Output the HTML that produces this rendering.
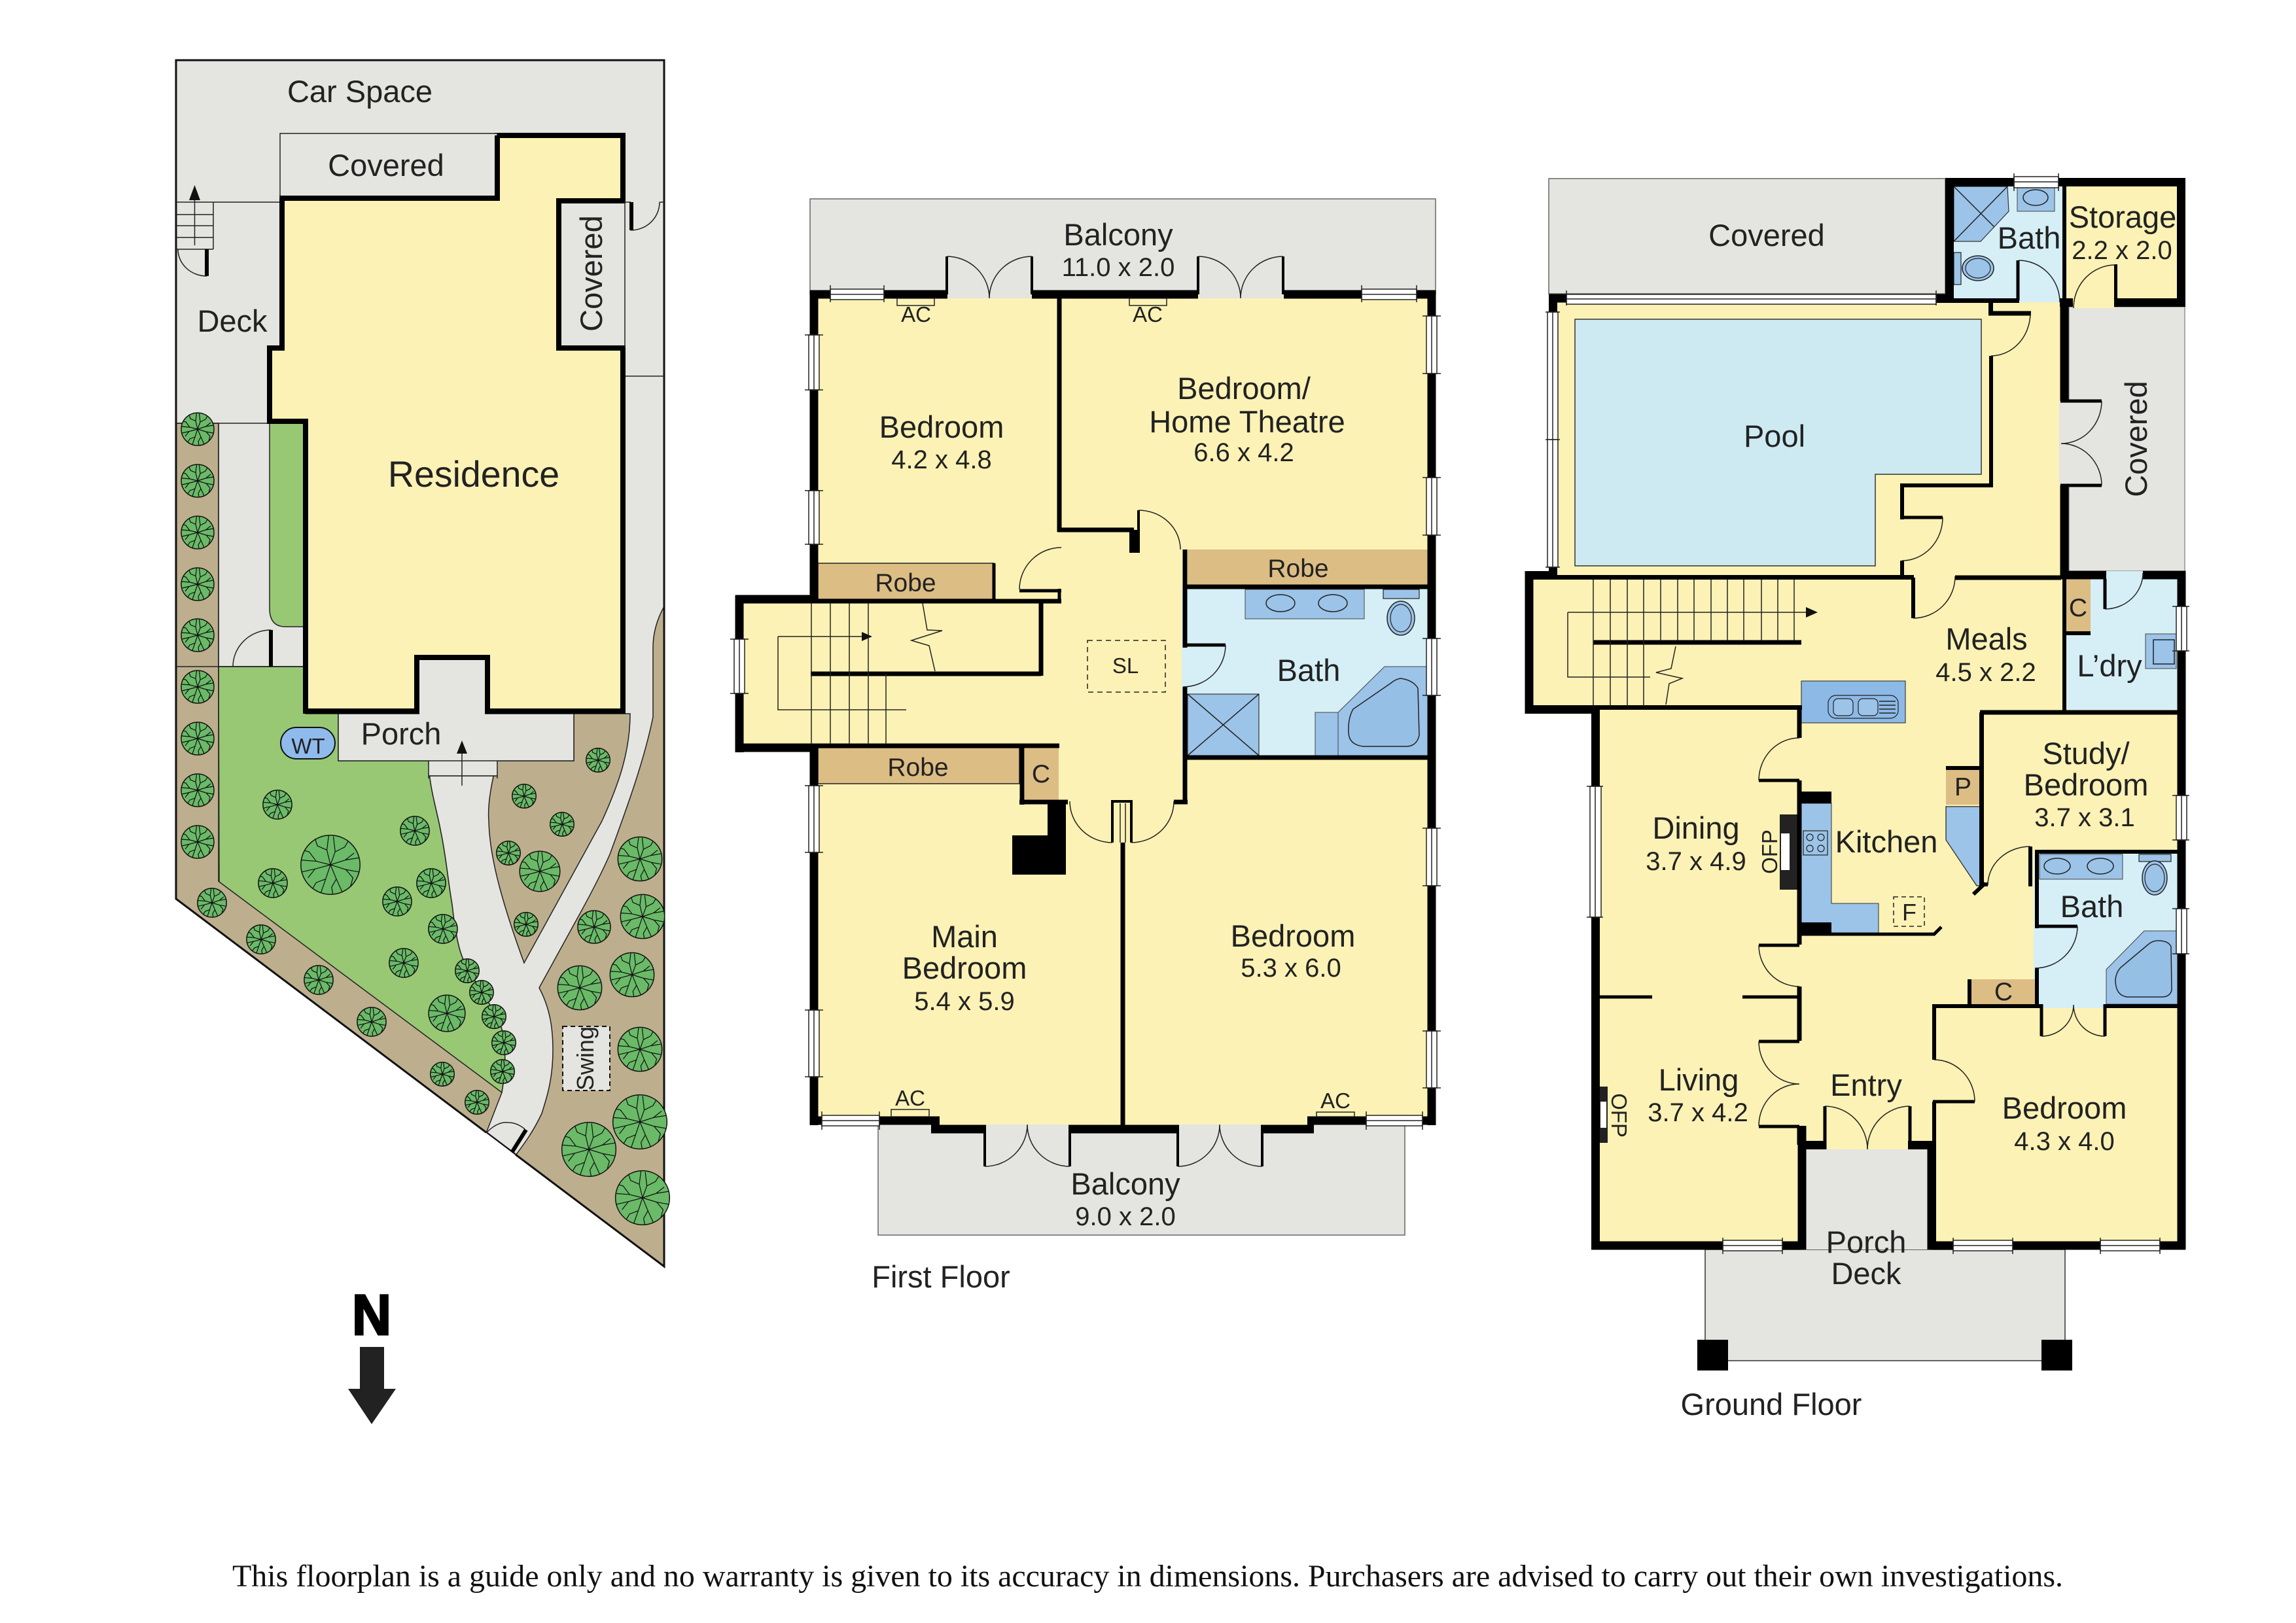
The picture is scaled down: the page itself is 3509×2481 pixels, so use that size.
<!DOCTYPE html>
<html><head><meta charset="utf-8"><title>Floorplan</title>
<style>
html,body{margin:0;padding:0;background:#fff}
svg{display:block}
text{font-family:"Liberation Sans",sans-serif;fill:#222}
.l{font-size:47px;text-anchor:middle}
.d{font-size:40px;text-anchor:middle}
.r{font-size:39px;text-anchor:middle}
.s{font-size:33px;text-anchor:middle}
.t{fill:none;stroke:#222;stroke-width:1.5}
.k{fill:none;stroke:#000;stroke-linejoin:miter}
.w rect{fill:#fff;stroke:#222;stroke-width:1.5}
.w path{fill:none;stroke:#222;stroke-width:1.5}
</style></head><body>
<svg xmlns="http://www.w3.org/2000/svg" width="3509" height="2481" viewBox="0 0 3509 2481">
<defs>
<symbol id="tr" viewBox="-52 -52 104 104">
<circle r="50" fill="#6aba68" stroke="#111" stroke-width="1.5" vector-effect="non-scaling-stroke"/>
<path fill="none" stroke="#111" stroke-width="1.2" vector-effect="non-scaling-stroke" d="M0 0L-6 -25L-3 -49M-6 -25L-22 -32L-26 -44M0 0L8 -22L5 -48M8 -22L24 -30L30 -40M0 0L25 -8L49 -12M25 -8L40 -20M0 0L26 8L48 12M26 8L38 22L34 36M0 0L10 24L20 46M10 24L2 38L4 49M0 0L-8 24L-16 47M-8 24L-24 30L-30 40M0 0L-26 7L-48 12M-26 7L-38 22M0 0L-24 -6L-49 -8M-24 -6L-36 -22L-44 -24"/>
</symbol>
</defs>
<rect width="3509" height="2481" fill="#fff"/>

<!-- SITE PLAN -->
<polygon points="269,92 1015,92 1015,1936 269,1374" fill="#bdae8e"/>
<path fill="#e4e4e1" stroke="#222" stroke-width="1.5" d="M269 92H1015V927C1005 945 998 965 998 990V1096C985 1160 960 1230 932 1306C915 1345 890 1390 880 1408L824 1510C840 1540 845 1570 845 1606C845 1650 835 1680 828 1702C815 1730 800 1750 788 1766L743 1732L767 1670C772 1640 775 1600 766 1570C750 1530 715 1490 705 1459C700 1445 695 1420 691 1383C685 1350 682 1310 673 1268C668 1240 655 1200 655 1163H517V1091H467V1019H334V647H269Z"/>
<path fill="#98c874" stroke="#222" stroke-width="1.5" d="M334 1019H467V1091H517V1163H655C655 1200 668 1240 673 1268C682 1310 685 1350 691 1383C695 1420 700 1445 705 1459C715 1490 750 1530 766 1570C775 1600 772 1640 767 1670L335 1348Z"/>
<path fill="#bdae8e" stroke="#222" stroke-width="1.5" d="M760 1163C750 1200 745 1230 747 1255C748 1300 760 1360 801 1472L920 1255C945 1200 963 1150 963 1091H877V1163Z"/>
<path fill="#98c874" stroke="#222" stroke-width="1.5" d="M412 647H464V958H436Q412 958 412 930Z"/>
<polygon points="269,92 1015,92 1015,1936 269,1374" fill="none" stroke="#111" stroke-width="3"/>
<path class="t" d="M269 309H428M955 309H964M1008 309H1015M955 575H1015M269 647H412M334 647V1348M269 1019H467M655 1186H760"/>
<rect x="517" y="1091" width="360" height="72" fill="#e4e4e1" stroke="#222" stroke-width="1.5"/>
<rect x="655" y="1164" width="105" height="22" fill="#e4e4e1"/>
<path class="t" d="M655 1186H760M655 1163V1190M760 1163V1190"/>
<path class="t" stroke-width="2" d="M706 1201V1145"/><polygon points="706,1132 698,1152 714,1152" fill="#111"/>
<path fill="#fcf2b5" stroke="#000" stroke-width="8" d="M431 303H760V207H952V307H854V532H952V1087H745V1005H637V1087H467V644H412V532H431Z"/>
<rect x="428" y="204" width="332" height="99" fill="#e4e4e1" stroke="#222" stroke-width="1.5"/>
<path class="k" stroke-width="8" d="M428 303H764M760 303V207"/>
<rect x="854" y="307" width="101" height="225" fill="#e4e4e1"/>
<path class="k" stroke-width="8" d="M854 303V536M850 532H956M856 307H956"/>
<path class="t" d="M955 307V532"/>
<rect x="641" y="1009" width="100" height="90" fill="#e4e4e1"/>
<path class="k" stroke-width="8" d="M637 1005V1091M745 1005V1091M633 1005H749M463 1087H637M745 1087H956"/>
<rect x="641" y="1091" width="100" height="4" fill="#e4e4e1"/>
<!-- stairs & doors on site -->
<path class="t" d="M269 328H326M269 345H326M269 363H326M269 381H326M326 309V381M297.500 375V296"/>
<polygon points="297.500,283 289,306 306,306" fill="#111"/>
<path class="k" stroke-width="6" d="M316 381V422M965 309V352M414 963V1019"/>
<path class="t" d="M316 422A44 41 0 0 1 272 381M964 352A44 43 0 0 0 1008 309M414 963A58 56 0 0 0 356 1019"/>
<path class="t" stroke-width="1.5" d="M743 1732Q760 1714 777 1716Q790 1716 802 1726"/>
<path class="k" stroke-width="6" d="M782 1762L804 1727"/>
<polygon points="743,1732 788,1766 782,1768 736,1735" fill="#fff"/>
<!-- trees -->
<g>
<use href="#tr" x="276" y="630" width="52" height="52"/><use href="#tr" x="276" y="709" width="52" height="52"/><use href="#tr" x="276" y="788" width="52" height="52"/><use href="#tr" x="276" y="867" width="52" height="52"/><use href="#tr" x="276" y="945" width="52" height="52"/>
<use href="#tr" x="276" y="1024" width="52" height="52"/><use href="#tr" x="276" y="1103" width="52" height="52"/><use href="#tr" x="276" y="1182" width="52" height="52"/><use href="#tr" x="276" y="1261" width="52" height="52"/>
<use href="#tr" x="301" y="1357" width="46" height="46"/><use href="#tr" x="376" y="1413" width="46" height="46"/><use href="#tr" x="464" y="1475" width="46" height="46"/><use href="#tr" x="545" y="1539" width="46" height="46"/>
<use href="#tr" x="657" y="1623" width="38" height="38"/><use href="#tr" x="710" y="1666" width="38" height="38"/>
<use href="#tr" x="401" y="1207" width="46" height="46"/><use href="#tr" x="394" y="1327" width="46" height="46"/><use href="#tr" x="458" y="1275" width="94" height="94"/>
<use href="#tr" x="611" y="1247" width="46" height="46"/><use href="#tr" x="636" y="1327" width="46" height="46"/><use href="#tr" x="584" y="1355" width="46" height="46"/><use href="#tr" x="654" y="1397" width="46" height="46"/><use href="#tr" x="594" y="1449" width="46" height="46"/>
<use href="#tr" x="695" y="1465" width="38" height="38"/><use href="#tr" x="717" y="1498" width="38" height="38"/><use href="#tr" x="736" y="1535" width="38" height="38"/><use href="#tr" x="751" y="1575" width="38" height="38"/><use href="#tr" x="749" y="1619" width="38" height="38"/>
<use href="#tr" x="654" y="1520" width="58" height="58"/>
<use href="#tr" x="895" y="1143" width="38" height="38"/><use href="#tr" x="782" y="1198" width="38" height="38"/><use href="#tr" x="840" y="1241" width="38" height="38"/><use href="#tr" x="758" y="1285" width="38" height="38"/><use href="#tr" x="793" y="1300" width="64" height="64"/><use href="#tr" x="785" y="1394" width="38" height="38"/>
<use href="#tr" x="943" y="1278" width="70" height="70"/><use href="#tr" x="947" y="1366" width="70" height="70"/><use href="#tr" x="882" y="1391" width="52" height="52"/><use href="#tr" x="931" y="1455" width="70" height="70"/><use href="#tr" x="851" y="1475" width="70" height="70"/><use href="#tr" x="943" y="1569" width="70" height="70"/>
<use href="#tr" x="935" y="1672" width="86" height="86"/><use href="#tr" x="857" y="1714" width="86" height="86"/><use href="#tr" x="939" y="1788" width="86" height="86"/>
</g>
<rect x="860" y="1569" width="72" height="98" fill="#e4e4e1" stroke="#111" stroke-width="2" stroke-dasharray="7 5"/>
<text transform="translate(907,1618) rotate(-90)" class="s" style="font-size:36px">Swing</text>
<rect x="429" y="1112" width="83" height="48" rx="24" fill="#8fbbec" stroke="#111" stroke-width="2"/>
<text x="471" y="1152" class="s">WT</text>
<text x="550" y="156" class="l">Car Space</text>
<text x="590" y="269" class="l">Covered</text>
<text transform="translate(920,418) rotate(-90)" class="l">Covered</text>
<text x="355" y="507" class="l">Deck</text>
<text x="724" y="744" class="l" style="font-size:55.500px">Residence</text>
<text x="613" y="1138" class="l">Porch</text>
<text x="568" y="2040" text-anchor="middle" textLength="60" lengthAdjust="spacingAndGlyphs" style="font-size:87px;font-weight:bold;fill:#000;stroke:#000;stroke-width:3">N</text>
<polygon points="550,2059 587,2059 587,2123 605,2123 568,2177 532,2123 550,2123" fill="#222"/>

<!-- FIRST FLOOR -->
<rect x="1238" y="304" width="956" height="146" fill="#e4e4e1" stroke="#666" stroke-width="1.5"/>
<rect x="1342" y="1700" width="805" height="188" fill="#e4e4e1" stroke="#666" stroke-width="1.5"/>
<polygon points="1244,450 2188,450 2188,1713 2001,1713 2001,1726 1429,1726 1429,1713 1244,1713 1244,1143 1130,1143 1130,916 1244,916" fill="#fcf2b5"/>
<rect x="1449" y="444" width="127" height="12" fill="#e4e4e1"/><rect x="1833" y="444" width="127" height="12" fill="#e4e4e1"/>
<rect x="1507" y="1719" width="126" height="9" fill="#e4e4e1"/><rect x="1802" y="1719" width="125" height="9" fill="#e4e4e1"/>
<!-- robes / bath -->
<rect x="1250" y="861" width="269" height="55" fill="#dcbd84" stroke="#222" stroke-width="1.5"/>
<rect x="1250" y="1143" width="308" height="55" fill="#dcbd84" stroke="#222" stroke-width="1.5"/>
<rect x="1566" y="1143" width="52" height="81" fill="#dcbd84"/>
<rect x="1815" y="840" width="367" height="55" fill="#dcbd84"/>
<rect x="1806" y="897" width="376" height="258" fill="#d6eff6"/>
<rect x="1903" y="901" width="182" height="45" fill="#9cc3e8" stroke="#444" stroke-width="1"/>
<ellipse cx="1957" cy="922" rx="22" ry="13" fill="#9cc3e8" stroke="#222" stroke-width="1.5"/><ellipse cx="2037" cy="922" rx="22" ry="13" fill="#9cc3e8" stroke="#222" stroke-width="1.5"/>
<rect x="2114" y="901" width="55" height="14" fill="#9cc3e8" stroke="#222" stroke-width="1.2"/>
<ellipse cx="2141" cy="945" rx="21" ry="26" fill="#9cc3e8" stroke="#222" stroke-width="1.5"/><ellipse cx="2141" cy="945" rx="16" ry="21" fill="none" stroke="#222" stroke-width="1.2"/>
<rect x="1815" y="1061" width="109" height="94" fill="#9cc3e8" stroke="#333" stroke-width="1.2"/><path class="t" d="M1815 1061L1924 1155M1924 1061L1815 1155"/>
<rect x="2010" y="1089" width="35" height="66" fill="#9cc3e8" stroke="#444" stroke-width="1"/>
<polygon points="2045,1089 2116,1019 2182,1019 2182,1155 2045,1155" fill="#9cc3e8" stroke="#444" stroke-width="1"/>
<path fill="#96bfe6" stroke="#222" stroke-width="1.5" d="M2141 1037Q2160 1040 2167 1052L2169 1124Q2165 1141 2149 1141H2083Q2061 1138 2061 1119Q2060 1098 2068 1084L2126 1044Q2133 1038 2141 1037Z"/>
<!-- walls -->
<path class="k" stroke-width="13" d="M1238 450H1448M1577 450H1831M1962 450H2194M1244 444V922M1244 1137V1720M2188 444V1720M1124 916H1250M1130 910V1150M1124 1143H1250M1238 1713H1436M1423 1726H1507M1633 1726H1802M1927 1726H2008M1998 1713H2194"/>
<path class="k" stroke-width="7" d="M1244 919H1622M1244 1140H1619M1619 456V813M1616 810H1733M1591 922V1033M1239 1030H1591M1562 1143V1230M1558 1226H1632M1811 840V1226M1794 1226H1815M1811 897H2182M1811 1158H2188"/>
<path class="k" stroke-width="5" d="M1558 903H1622M1619 900V922M1808 986H1873M1519 861V916"/>
<rect x="1806" y="990" width="10" height="60" fill="#d6eff6"/>
<path class="k" stroke-width="14" d="M1733 810V845"/>
<path class="k" stroke-width="4" d="M1740 780V845M1447 392V450M1577 392V450M1831 392V450M1961 392V450M1505 1726V1783M1635 1726V1783M1800 1726V1783M1929 1726V1783M1700 1225V1288M1729 1225V1288M1698 1225H1731"/>
<path class="k" stroke-width="7" d="M1716 1288V1720"/>
<path class="t" d="M1712 1228V1288M1720 1228V1288"/>
<rect x="1601" y="1226" width="28" height="111" fill="#000"/><rect x="1547" y="1277" width="82" height="60" fill="#000"/>
<path class="t" d="M1447 392A65 64 0 0 1 1512 456M1577 392A65 64 0 0 0 1512 456M1831 392A65 64 0 0 1 1896 456M1961 392A65 64 0 0 0 1896 456M1505 1783A65 64 0 0 0 1570 1719M1635 1783A65 64 0 0 1 1570 1719M1800 1783A64 64 0 0 0 1864 1719M1929 1783A65 64 0 0 1 1864 1719M1740 780A64 60 0 0 1 1804 840M1622 837A64 64 0 0 0 1558 901M1873 986A65 64 0 0 1 1808 1050M1635 1225A65 63 0 0 0 1700 1288M1729 1288A65 63 0 0 0 1794 1225"/>
<!-- stairs -->
<path class="t" d="M1240 922V1138M1269 922V1138M1298 922V1138M1327 922V1138M1354 1030V1138M1189 973V1085H1385M1189 973H1320M1410 922L1417 963L1440 964L1393 979L1420 987L1429 1026"/>
<polygon points="1333,973 1317,966 1317,980" fill="#111"/>
<rect x="1662" y="979" width="119" height="79" fill="none" stroke="#222" stroke-width="1.5" stroke-dasharray="8 6"/>
<!-- AC -->
<rect x="1371" y="456" width="57" height="11" fill="none" stroke="#222" stroke-width="1.5"/><rect x="1726" y="456" width="57" height="11" fill="none" stroke="#222" stroke-width="1.5"/>
<rect x="1362" y="1696" width="58" height="11" fill="none" stroke="#222" stroke-width="1.5"/><rect x="2012" y="1700" width="58" height="7" fill="none" stroke="#222" stroke-width="1.5"/>
<!-- windows first floor -->
<g class="w">
<rect x="1269" y="442" width="82" height="16"/><path d="M1269 436V462M1351 436V462M1269 450H1351"/>
<rect x="2081" y="442" width="84" height="16"/><path d="M2081 436V462M2165 436V462M2081 450H2165"/>
<rect x="1236" y="512" width="16" height="84"/><path d="M1230 512H1258M1230 596H1258M1244 512V596"/>
<rect x="1236" y="750" width="16" height="82"/><path d="M1230 750H1258M1230 832H1258M1244 750V832"/>
<rect x="1236" y="1201" width="16" height="102"/><path d="M1230 1201H1258M1230 1303H1258M1244 1201V1303"/>
<rect x="1236" y="1544" width="16" height="102"/><path d="M1230 1544H1258M1230 1646H1258M1244 1544V1646"/>
<rect x="2180" y="483" width="16" height="88"/><path d="M2174 483H2202M2174 571H2202M2188 483V571"/>
<rect x="2180" y="730" width="16" height="88"/><path d="M2174 730H2202M2174 818H2202M2188 730V818"/>
<rect x="2180" y="976" width="16" height="87"/><path d="M2174 976H2202M2174 1063H2202M2188 976V1063"/>
<rect x="2180" y="1266" width="16" height="88"/><path d="M2174 1266H2202M2174 1354H2202M2188 1266V1354"/>
<rect x="2180" y="1576" width="16" height="87"/><path d="M2174 1576H2202M2174 1663H2202M2188 1576V1663"/>
<rect x="1122" y="977" width="16" height="83"/><path d="M1116 977H1144M1116 1060H1144M1130 977V1060"/>
<rect x="1256" y="1705" width="88" height="16"/><path d="M1256 1699V1727M1344 1699V1727M1256 1713H1344"/>
<rect x="2088" y="1705" width="86" height="16"/><path d="M2088 1699V1727M2174 1699V1727M2088 1713H2174"/>
</g>
<text x="1709" y="375" class="l">Balcony</text><text x="1709" y="422" class="d">11.0 x 2.0</text>
<text x="1400" y="492" class="s">AC</text><text x="1754" y="492" class="s">AC</text><text x="1391" y="1690" class="s">AC</text><text x="2041" y="1694" class="s">AC</text>
<text x="1439" y="669" class="l">Bedroom</text><text x="1439" y="716" class="d">4.2 x 4.8</text>
<text x="1901" y="610" class="l">Bedroom/</text><text x="1906" y="661" class="l">Home Theatre</text><text x="1901" y="705" class="d">6.6 x 4.2</text>
<text x="1984" y="882" class="r">Robe</text><text x="1384" y="904" class="r">Robe</text><text x="1403" y="1186" class="r">Robe</text><text x="1591" y="1196" class="r">C</text>
<text x="2000" y="1041" class="l">Bath</text><text x="1720" y="1029" class="s">SL</text>
<text x="1474" y="1448" class="l">Main</text><text x="1474" y="1496" class="l">Bedroom</text><text x="1474" y="1544" class="d">5.4 x 5.9</text>
<text x="1976" y="1447" class="l">Bedroom</text><text x="1973" y="1493" class="d">5.3 x 6.0</text>
<text x="1720" y="1826" class="l">Balcony</text><text x="1720" y="1873" class="d">9.0 x 2.0</text>
<text x="1438" y="1968" class="l">First Floor</text>

<!-- GROUND FLOOR -->
<rect x="2367" y="273" width="606" height="176" fill="#e4e4e1" stroke="#666" stroke-width="1.5"/>
<polygon points="2373,456 3155,456 3155,883 3334,883 3334,1904 2952,1904 2952,1757 2754,1757 2754,1904 2438,1904 2438,1085 2337,1085 2337,880 2373,880" fill="#fcf2b5"/>
<rect x="3162" y="469" width="177" height="404" fill="#e4e4e1" stroke="#666" stroke-width="1"/>
<rect x="3147" y="613" width="16" height="129" fill="#e4e4e1"/>
<rect x="3156" y="284" width="172" height="172" fill="#fcf2b5"/>
<rect x="3168" y="456" width="63" height="15" fill="#fcf2b5"/>
<rect x="2986" y="284" width="166" height="178" fill="#d6eff6"/>
<rect x="3158" y="885" width="170" height="200" fill="#d6eff6"/><rect x="3219" y="873" width="56" height="14" fill="#d6eff6"/>
<polygon points="2407,488 3028,488 3028,725 2866,725 2866,865 2407,865" fill="#cdeaf2" stroke="#333" stroke-width="1.5"/>
<rect x="2606" y="1910" width="550" height="170" fill="#e4e4e1" stroke="#333" stroke-width="1.5"/>
<rect x="2760" y="1757" width="186" height="153" fill="#e4e4e1"/>
<rect x="2594" y="2048" width="47" height="47" fill="#000"/><rect x="3120" y="2048" width="47" height="47" fill="#000"/>
<rect x="3108" y="1305" width="220" height="230" fill="#d6eff6"/><rect x="3122" y="1533" width="93" height="8" fill="#d6eff6"/>
<!-- fixtures -->
<polygon points="2986,285 3068,285 3070,323 3027,369 2986,369" fill="#9cc3e8" stroke="#333" stroke-width="1.2"/><path class="t" d="M2986 285L3048 347M3068 285L2986 369"/>
<rect x="3083" y="287" width="57" height="36" fill="#9cc3e8" stroke="#444" stroke-width="1"/><ellipse cx="3111" cy="302" rx="19" ry="12" fill="#9cc3e8" stroke="#222" stroke-width="1.5"/>
<rect x="2986" y="386" width="11" height="49" fill="#9cc3e8" stroke="#222" stroke-width="1.2"/><ellipse cx="3023" cy="410" rx="24" ry="19" fill="#9cc3e8" stroke="#222" stroke-width="1.5"/><ellipse cx="3023" cy="410" rx="19" ry="15" fill="none" stroke="#222" stroke-width="1.2"/>
<rect x="3158" y="885" width="37" height="80" fill="#dcbd84"/>
<rect x="3279" y="969" width="47" height="53" fill="#9cc3e8" stroke="#444" stroke-width="1"/><rect x="3291" y="978" width="32" height="37" fill="#9cc3e8" stroke="#222" stroke-width="1.5"/>
<rect x="2753" y="1041" width="159" height="64" fill="#8db9e6" stroke="#222" stroke-width="1"/><rect x="2794" y="1063" width="107" height="35" rx="12" fill="none" stroke="#222" stroke-width="1.2"/><rect x="2802" y="1068" width="30" height="26" rx="7" fill="#9cc3e8" stroke="#222" stroke-width="1.2"/><rect x="2840" y="1068" width="30" height="26" rx="7" fill="#9cc3e8" stroke="#222" stroke-width="1.2"/><path class="t" stroke-width="1" d="M2872 1072H2897M2872 1078H2897M2872 1084H2897M2872 1090H2897"/>
<rect x="2974" y="1174" width="52" height="56" fill="#dcbd84"/>
<polygon points="2974,1233 3026,1233 3026,1354 3021,1354 2974,1284" fill="#9cc3e8" stroke="#222" stroke-width="1.2"/>
<polygon points="2753,1228 2799,1228 2799,1381 2871,1381 2871,1426 2753,1426" fill="#9cc3e8" stroke="#333" stroke-width="1"/>
<rect x="2753" y="1210" width="46" height="18" fill="#000"/><rect x="2753" y="1410" width="46" height="18" fill="#000"/>
<rect x="2756" y="1270" width="37" height="37" fill="#9cc3e8" stroke="#222" stroke-width="1.2"/>
<circle cx="2766" cy="1280" r="5" fill="none" stroke="#222" stroke-width="1.2"/><circle cx="2783" cy="1280" r="5" fill="none" stroke="#222" stroke-width="1.2"/><circle cx="2766" cy="1297" r="5" fill="none" stroke="#222" stroke-width="1.2"/><circle cx="2783" cy="1297" r="5" fill="none" stroke="#222" stroke-width="1.2"/>
<rect x="2720" y="1245" width="28" height="115" fill="#222"/><rect x="2722" y="1274" width="13" height="56" fill="#fff"/>
<rect x="2445" y="1661" width="12" height="86" fill="#222"/><rect x="2446" y="1684" width="9" height="40" fill="#fff"/>
<rect x="2894" y="1371" width="47" height="45" fill="none" stroke="#222" stroke-width="1.5" stroke-dasharray="7 5"/>
<rect x="3117" y="1306" width="127" height="38" fill="#9cc3e8" stroke="#444" stroke-width="1"/><ellipse cx="3144" cy="1324" rx="20" ry="12" fill="#9cc3e8" stroke="#222" stroke-width="1.5"/><ellipse cx="3210" cy="1324" rx="20" ry="12" fill="#9cc3e8" stroke="#222" stroke-width="1.5"/>
<rect x="3269" y="1306" width="49" height="11" fill="#9cc3e8" stroke="#222" stroke-width="1.2"/><ellipse cx="3293" cy="1342" rx="19" ry="26" fill="#9cc3e8" stroke="#222" stroke-width="1.5"/><ellipse cx="3293" cy="1342" rx="15" ry="21" fill="none" stroke="#222" stroke-width="1.2"/>
<polygon points="3219,1482 3277,1423 3328,1423 3328,1535 3219,1535" fill="#9cc3e8" stroke="#444" stroke-width="1"/>
<path fill="#96bfe6" stroke="#222" stroke-width="1.5" d="M3298 1438Q3314 1438 3318 1447L3319 1514Q3316 1524 3304 1524H3251Q3234 1522 3233 1500Q3233 1488 3241 1479L3284 1443Q3290 1438 3298 1438Z"/>
<rect x="3011" y="1497" width="99" height="38" fill="#dcbd84"/>
<!-- walls -->
<path class="k" stroke-width="13" d="M2973 278.500H3340M2979.500 272V463M3333.500 272V469M3231 462.500H3340M3148 462.500H3168M2367 456H2394M2959 456H2986M2373.500 450V886M2331 879.500H2380M3149 879H3219M3275 879H3340M2337 873V1091M2331 1084.500H2445M2754 1721V1910M2952 1750V1910M2748 1750.500H2790M2916 1750.500H2959"/>
<path class="k" stroke-width="13" d="M3155 463V613M3155 742V885M3334 873V1910M2438.500 1085V1910M2432 1904H2754M2952 1904H3340"/>
<path class="k" stroke-width="7" d="M2380 882.500H2925M2988 883H3150M2445 1081.500H2754M2435 982H2753M3026 1089H3328M3028.500 1089V1354M2750 1085V1128M2750 1193V1444M2750 1508V1591M2750 1722V1750M2960 459.500H3086M3042.500 462V482M3039 479H3104"/>
<path class="k" stroke-width="6" d="M3043 544V745M3040 742H2910M2907 739V794M2907 857V880M2924 883V945M3155 885V1091M3155 968H3195M3010 1497V1541M2954 1538H3122M3217 1538H3328M3113 1302V1419M3113 1480V1538M3110 1302H3328M3103 1294V1355M2956 1535V1620M2956 1684V1910M2974 1174H3030M3016 1367L3034 1350M3038 1352H3030M3155 284V460"/>
<path class="k" stroke-width="5" d="M2907 791H2969M2688 1193H2750M3084 398V459M3233.500 404V462M3149 613H3212M3149 742H3212M3217 885V931M2753 1428H2956L2967 1417M2688 1445H2750M2445 1524H2525M2663 1524H2750M2688 1592H2750M2688 1722H2750M3110 1416H3175M2954 1684H3018M3120 1535V1584M3217 1535V1584M2789 1691V1757M2919 1691V1757"/>
<!-- arcs -->
<path class="t" d="M3085 398A63 64 0 0 1 3148 462M3233 405A64 66 0 0 0 3169 471M3212 613A62 65 0 0 1 3150 678M3212 742A62 64 0 0 0 3150 678M3103 478A60 66 0 0 1 3043 544M2969 791A62 66 0 0 1 2907 857M2924 945A64 64 0 0 0 2988 881M3217 931A58 55 0 0 0 3275 876M2750 1128A62 65 0 0 0 2688 1193M3038 1353A65 59 0 0 1 3103 1294M3175 1416A65 64 0 0 1 3110 1480M3120 1584A49 48 0 0 0 3169 1536M3217 1584A48 48 0 0 1 3169 1536M2956 1620A62 64 0 0 1 3018 1684M2750 1508A62 63 0 0 1 2688 1445M2688 1592A62 65 0 0 0 2750 1657M2750 1657A62 64 0 0 0 2688 1721M2789 1691A65 66 0 0 1 2854 1757M2919 1691A65 66 0 0 0 2854 1757"/>
<!-- stairs -->
<path class="t" d="M2435 886V1079M2461 886V1079M2487 886V1079M2512 886V1079M2538 886V979M2564 886V979M2589 886V979M2615 886V979M2640 886V979M2665 886V979M2692 886V979M2717 886V979M2742 886V979M2396 936H2765M2396 936V1035H2522M2561 988L2554 1022L2531 1028L2571 1037L2551 1045L2546 1077"/>
<polygon points="2778,936 2760,928 2760,944" fill="#111"/>
<!-- windows ground -->
<g class="w">
<rect x="2394" y="450" width="565" height="15"/><path d="M2394 444V467M2959 444V467M2394 457H2959"/>
<rect x="2365" y="477" width="16" height="195"/><path d="M2362 477H2384M2362 672H2384M2373 477V672"/>
<rect x="2365" y="672" width="16" height="195"/><path d="M2362 867H2384M2373 672V867"/>
<rect x="3078" y="270" width="68" height="17"/><path d="M3078 265V292M3146 265V292M3078 278H3146"/>
<rect x="3326" y="927" width="16" height="68"/><path d="M3320 927H3346M3320 995H3346M3334 927V995"/>
<rect x="3326" y="1216" width="16" height="68"/><path d="M3320 1216H3346M3320 1284H3346M3334 1216V1284"/>
<rect x="3326" y="1389" width="16" height="69"/><path d="M3320 1389H3346M3320 1458H3346M3334 1389V1458"/>
<rect x="2430" y="1202" width="17" height="200"/><path d="M2425 1202H2450M2425 1402H2450M2438 1202V1402"/>
<rect x="2633" y="1896" width="91" height="16"/><path d="M2633 1892V1917M2724 1892V1917M2633 1904H2724"/>
<rect x="2985" y="1896" width="91" height="16"/><path d="M2985 1892V1917M3076 1892V1917M2985 1904H3076"/>
<rect x="3210" y="1896" width="91" height="16"/><path d="M3210 1892V1917M3301 1892V1917M3210 1904H3301"/>
</g>
<text x="2700" y="376" class="l">Covered</text><text x="3101" y="380" class="l">Bath</text>
<text x="3244" y="348" class="l">Storage</text><text x="3243" y="396" class="d">2.2 x 2.0</text>
<text x="2712" y="683" class="l">Pool</text>
<text transform="translate(3281,671) rotate(-90)" class="l">Covered</text>
<text x="3036" y="993" class="l">Meals</text><text x="3035" y="1041" class="d">4.5 x 2.2</text>
<text x="3176" y="942" class="r">C</text><text x="3224" y="1034" class="l">L’dry</text>
<text x="3188" y="1168" class="l">Study/</text><text x="3188" y="1216" class="l">Bedroom</text><text x="3186" y="1263" class="d">3.7 x 3.1</text>
<text x="2592" y="1282" class="l">Dining</text><text x="2592" y="1330" class="d">3.7 x 4.9</text>
<text x="2883" y="1303" class="l">Kitchen</text><text x="3000" y="1216" class="r">P</text><text x="2918" y="1407" class="s" style="font-size:36px">F</text>
<text x="3197" y="1402" class="l">Bath</text><text x="3062" y="1529" class="r">C</text>
<text x="2596" y="1667" class="l">Living</text><text x="2595" y="1714" class="d">3.7 x 4.2</text>
<text x="2852" y="1675" class="l">Entry</text>
<text x="3155" y="1710" class="l">Bedroom</text><text x="3155" y="1758" class="d">4.3 x 4.0</text>
<text x="2852" y="1915" class="l">Porch</text><text x="2852" y="1963" class="l">Deck</text>
<text x="2707" y="2163" class="l">Ground Floor</text>
<text transform="translate(2716,1302) rotate(-90)" class="s">OFP</text>
<text transform="translate(2463,1705) rotate(90)" class="s">OFP</text>
<text x="355" y="2425" textLength="2798" lengthAdjust="spacing" style="font-family:'Liberation Serif',serif;font-size:48px;fill:#111">This floorplan is a guide only and no warranty is given to its accuracy in dimensions. Purchasers are advised to carry out their own investigations.</text>
</svg>
</body></html>
